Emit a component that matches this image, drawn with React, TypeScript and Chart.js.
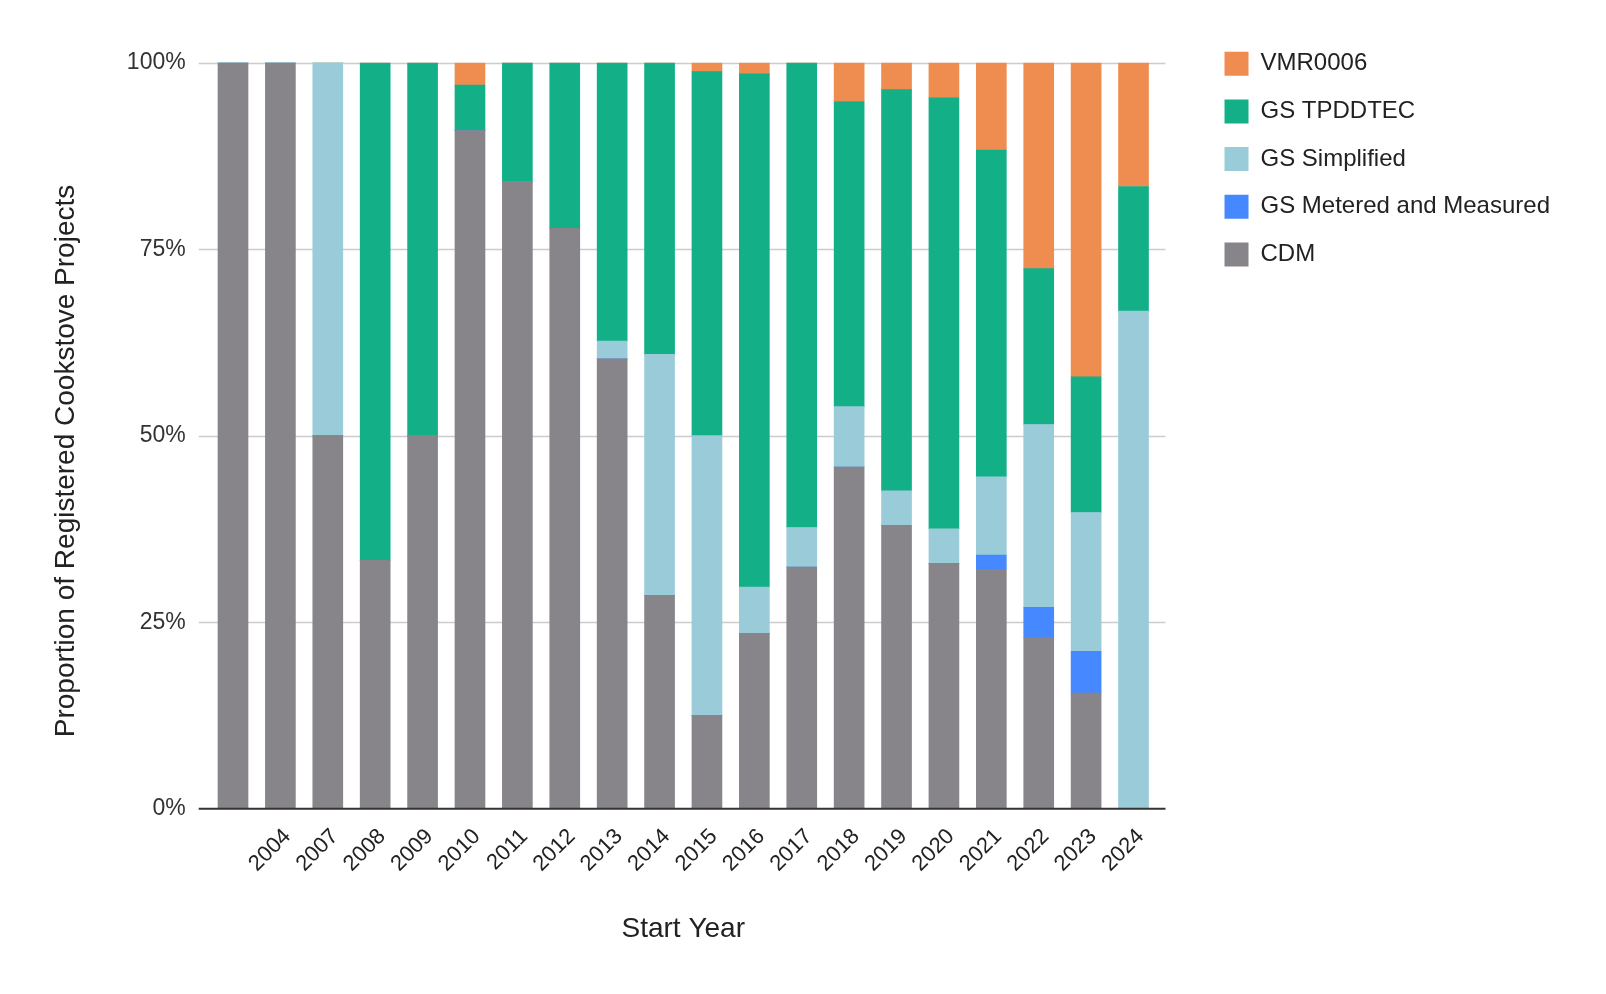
import React, { useEffect, useRef } from "react";
import { Chart, registerables } from "chart.js";

Chart.register(...registerables);

const years = [
  "", "2004", "2007", "2008", "2009", "2010", "2011", "2012", "2013", "2014",
  "2015", "2016", "2017", "2018", "2019", "2020", "2021", "2022", "2023", "2024",
];

const cdm = [100, 100, 50, 33.3, 50, 90.9, 84.0, 77.8, 60.3, 28.6, 12.5, 23.5, 32.4, 45.8, 38.0, 32.9, 32.1, 22.9, 15.5, 0];
const gsMetered = [0, 0, 0, 0, 0, 0, 0, 0, 0, 0, 0, 0, 0, 0, 0, 0, 1.9, 4.1, 5.6, 0];
const gsSimplified = [0, 0, 50, 0, 0, 0, 0, 0, 2.4, 32.3, 37.5, 6.2, 5.3, 8.1, 4.6, 4.6, 10.5, 24.5, 18.6, 66.7];
const gsTpddtec = [0, 0, 0, 66.7, 50, 6.1, 16.0, 22.2, 37.3, 39.1, 48.8, 68.8, 62.3, 40.9, 53.8, 57.8, 43.8, 20.9, 18.2, 16.7];
const vmr0006 = [0, 0, 0, 0, 0, 3.0, 0, 0, 0, 0, 1.2, 1.5, 0, 5.2, 3.6, 4.7, 11.7, 27.6, 42.1, 16.6];

const yTicks = [0, 25, 50, 75, 100];

const Y_TITLE = "Proportion of Registered Cookstove Projects";
const FONT = "'Liberation Sans', Arial, sans-serif";

// grid lines in the reference run a bit past the bars on both sides
const wideGrid = {
  id: "wideGrid",
  beforeDatasetsDraw(chart: any) {
    const { ctx, chartArea, scales } = chart;
    ctx.save();
    ctx.strokeStyle = "#cccccc";
    ctx.lineWidth = 1.5;
    yTicks.forEach((t) => {
      if (t === 0) return;
      const y = Math.round(scales.y.getPixelForValue(t)) + 0.5;
      ctx.beginPath();
      ctx.moveTo(chartArea.left - 10.6, y);
      ctx.lineTo(chartArea.right + 8.3, y);
      ctx.stroke();
    });
    ctx.restore();
  },
  afterDatasetsDraw(chart: any) {
    const { ctx, chartArea, scales } = chart;
    const y = scales.y.getPixelForValue(0);
    ctx.save();
    ctx.strokeStyle = "#333333";
    ctx.lineWidth = 2;
    ctx.beginPath();
    ctx.moveTo(chartArea.left - 10.6, y);
    ctx.lineTo(chartArea.right + 8.3, y);
    ctx.stroke();
    ctx.restore();
  },
};

// y title sits lower than the plot's middle in the reference
const yTitle = {
  id: "yTitle",
  afterDraw(chart: any) {
    const { ctx } = chart;
    ctx.save();
    ctx.translate(66, 461);
    ctx.rotate(-Math.PI / 2);
    ctx.fillStyle = "#222222";
    ctx.font = `28px ${FONT}`;
    ctx.textAlign = "center";
    ctx.textBaseline = "middle";
    ctx.fillText(Y_TITLE, 0, 0);
    ctx.restore();
  },
};

const App = () => {
  const canvasRef = useRef<HTMLCanvasElement>(null);
  const chartRef = useRef<Chart | null>(null);

  useEffect(() => {
    if (!canvasRef.current) return;

    chartRef.current?.destroy();

    const bar = (label: string, data: number[], color: string) => ({
      label,
      data,
      backgroundColor: color,
      borderWidth: 0,
      barThickness: 30,
    });

    chartRef.current = new Chart(canvasRef.current, {
      type: "bar",
      data: {
        labels: years,
        datasets: [
          bar("CDM", cdm, "#878589"),
          bar("GS Metered and Measured", gsMetered, "#4688ff"),
          bar("GS Simplified", gsSimplified, "#99cbd8"),
          bar("GS TPDDTEC", gsTpddtec, "#13af87"),
          bar("VMR0006", vmr0006, "#ef8c50"),
        ],
      },
      options: {
        responsive: true,
        maintainAspectRatio: false,
        animation: false,
        layout: {
          padding: { top: 28, right: 46, bottom: 0, left: 0 },
        },
        plugins: {
          // empty title only pushes the plot below the legend's first row
          title: {
            display: true,
            text: "",
            font: { size: 10, lineHeight: 1 },
            padding: { top: 24.7, bottom: 0 },
          },
          legend: {
            position: "right",
            align: "start",
            reverse: true,
            maxWidth: 500,
            labels: {
              boxWidth: 24,
              boxHeight: 24,
              padding: 23.7,
              color: "#222222",
              font: { family: FONT, size: 24 },
            },
          },
          tooltip: { enabled: false },
        },
        scales: {
          x: {
            stacked: true,
            grid: { display: false },
            border: { display: false },
            ticks: {
              autoSkip: false,
              minRotation: 45,
              maxRotation: 45,
              padding: 7,
              labelOffset: 7,
              color: "#222222",
              font: { family: FONT, size: 22 },
            },
            title: {
              display: true,
              text: "Start Year",
              color: "#222222",
              font: { family: FONT, size: 28 },
              padding: { top: 0, bottom: 48.2 },
            },
            afterFit: (scale: any) => {
              scale.height = 185.3;
            },
          },
          y: {
            stacked: true,
            min: 0,
            max: 100,
            grid: { display: false, drawTicks: false },
            border: { display: false },
            ticks: {
              stepSize: 25,
              padding: 23.6,
              color: "#333333",
              font: { family: FONT, size: 23 },
              callback: (v: any) => v + "%",
            },
            afterFit: (scale: any) => {
              scale.width = 209.3;
            },
          },
          // blank spacer between plot and legend
          gap: {
            position: "right",
            display: true,
            grid: { display: false },
            border: { display: false },
            ticks: { display: false },
            afterFit: (scale: any) => {
              scale.width = 43.6;
            },
          },
        },
      },
      plugins: [wideGrid, yTitle],
    } as any);

    return () => {
      chartRef.current?.destroy();
    };
  }, []);

  return (
    <div style={{ position: "fixed", left: 0, top: 0, width: 1606, height: 994, background: "#fff" }}>
      <canvas ref={canvasRef} />
    </div>
  );
};

export default App;
